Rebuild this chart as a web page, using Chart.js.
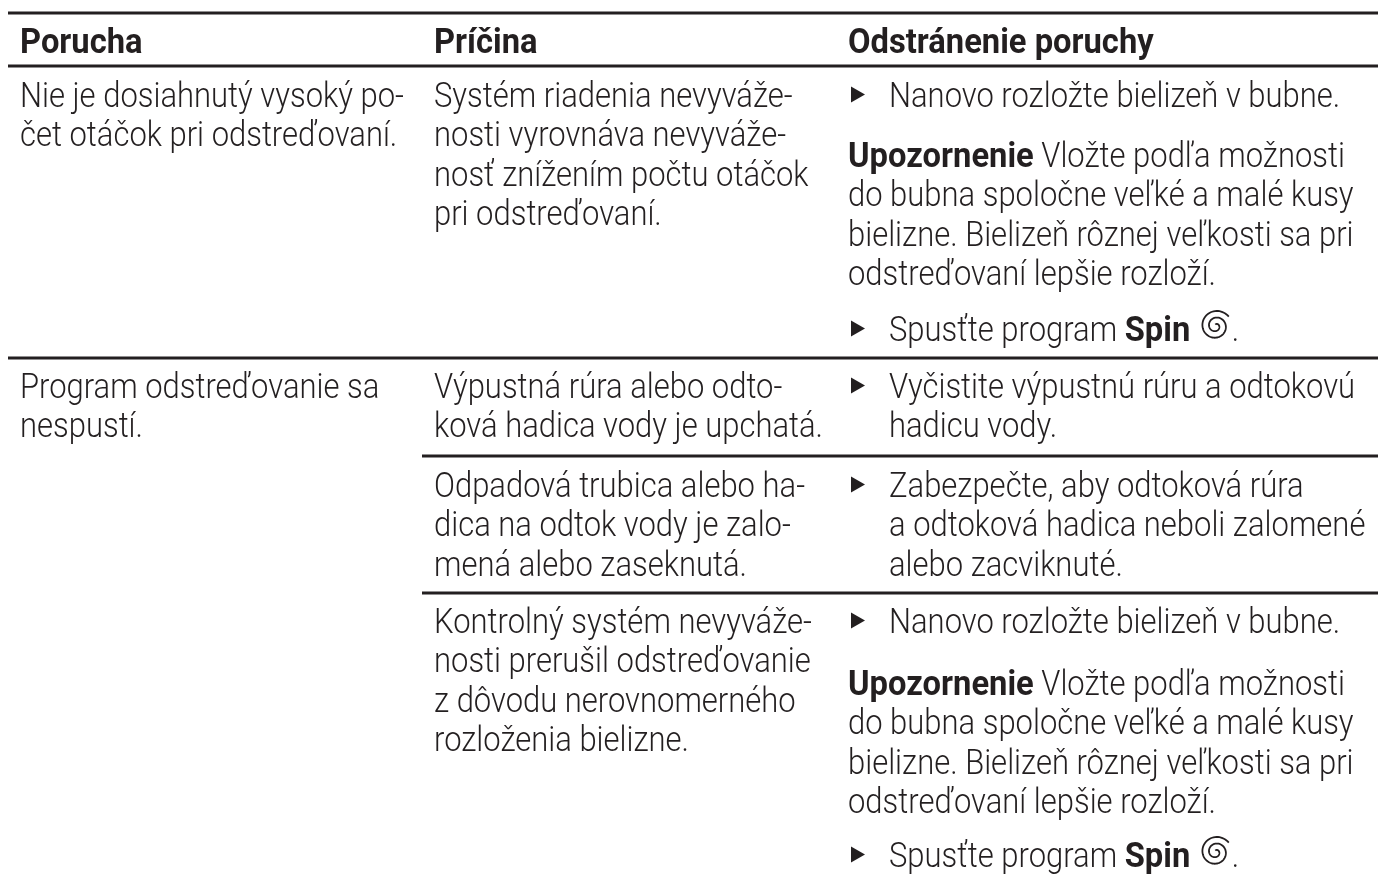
<!DOCTYPE html>
<html>
<head>
<meta charset="utf-8">
<title>Porucha</title>
<script src="https://cdn.jsdelivr.net/npm/chart.js@4/dist/chart.umd.min.js"></script>
<style>
  html, body { margin: 0; padding: 0; background: #fff; }
  #wrap { width: 1378px; height: 879px; }
</style>
</head>
<body>
<div id="wrap"><canvas id="tableChart"></canvas></div>
<script>
// table text, * switches bold on/off, @ is the spin symbol
const headers = ['Porucha', 'Príčina', 'Odstránenie poruchy'];
const fault1 = ['Nie je dosiahnutý vysoký po-', 'čet otáčok pri odstreďovaní.'];
const fault2 = ['Program odstreďovanie sa', 'nespustí.'];
const cause1 = ['Systém riadenia nevyváže-', 'nosti vyrovnáva nevyváže-', 'nosť znížením počtu otáčok', 'pri odstreďovaní.'];
const cause2 = ['Výpustná rúra alebo odto-', 'ková hadica vody je upchatá.'];
const cause3 = ['Odpadová trubica alebo ha-', 'dica na odtok vody je zalo-', 'mená alebo zaseknutá.'];
const cause4 = ['Kontrolný systém nevyváže-', 'nosti prerušil odstreďovanie', 'z dôvodu nerovnomerného', 'rozloženia bielizne.'];
const redistribute = ['Nanovo rozložte bielizeň v bubne.'];
const notice = ['*Upozornenie* Vložte podľa možnosti', 'do bubna spoločne veľké a malé kusy', 'bielizne. Bielizeň rôznej veľkosti sa pri', 'odstreďovaní lepšie rozloží.'];
const spin = ['Spusťte program *Spin* @.'];
const clean = ['Vyčistite výpustnú rúru a odtokovú', 'hadicu vody.'];
const secure = ['Zabezpečte, aby odtoková rúra', 'a odtoková hadica neboli zalomené', 'alebo zacviknuté.'];

// rules of the table as [x from, x to, y]
const ruleFull = [[8, 1378, 13], [8, 1378, 66], [8, 1378, 358]];
const ruleCells = [[422, 1378, 456], [422, 1378, 593]];

const colX = [20, 434, 848];
const textX = 889;
const pitch = 39.3;

const blocks = [
  { lines: fault1, x: colX[0], y: 107 },
  { lines: fault2, x: colX[0], y: 398 },
  { lines: cause1, x: colX[1], y: 107 },
  { lines: cause2, x: colX[1], y: 398 },
  { lines: cause3, x: colX[1], y: 497 },
  { lines: cause4, x: colX[1], y: 633 },
  { lines: redistribute, x: textX, y: 107, bullet: true },
  { lines: notice, x: colX[2], y: 167 },
  { lines: spin, x: textX, y: 341, bullet: true },
  { lines: clean, x: textX, y: 398, bullet: true },
  { lines: secure, x: textX, y: 497, bullet: true },
  { lines: redistribute, x: textX, y: 633, bullet: true },
  { lines: notice, x: colX[2], y: 695 },
  { lines: spin, x: textX, y: 867, bullet: true }
];

const lightFont = '300 35px Roboto';
const boldFont = '700 35px Roboto';
const squeeze = 0.885;
const boldSqueeze = 0.935;
const ink = '#231f20';

function drawSpiral(ctx, cx, cy) {
  const turns = Math.PI * 4.4;
  ctx.save();
  ctx.strokeStyle = ink;
  ctx.lineWidth = 1.8;
  ctx.beginPath();
  for (let a = 0; a <= turns; a += 0.1) {
    const r = 1.5 + a * 1.05;
    const px = cx + Math.cos(a - 0.6 - turns) * r;
    const py = cy + Math.sin(a - 0.6 - turns) * r;
    if (a === 0) ctx.moveTo(px, py); else ctx.lineTo(px, py);
  }
  ctx.stroke();
  ctx.restore();
}

function drawLine(ctx, text, x, y) {
  const parts = text.split('*');
  let cursor = x;
  parts.forEach((part, i) => {
    const bold = i % 2 === 1;
    const sx = bold ? boldSqueeze : squeeze;
    ctx.font = bold ? boldFont : lightFont;
    part.split('@').forEach((bit, j) => {
      if (j > 0) {
        drawSpiral(ctx, cursor + 18, y - 15);
        cursor += 34;
      }
      ctx.save();
      ctx.translate(cursor, y);
      ctx.scale(sx, 1);
      ctx.fillText(bit, 0, 0);
      ctx.restore();
      cursor += ctx.measureText(bit).width * sx;
    });
  });
}

const tableText = {
  id: 'tableText',
  afterDatasetsDraw(chart) {
    const { ctx, scales } = chart;
    const px = v => scales.x.getPixelForValue(v);
    const py = v => scales.y.getPixelForValue(v);
    ctx.save();
    ctx.fillStyle = ink;
    ctx.textBaseline = 'alphabetic';
    ctx.textAlign = 'left';
    headers.forEach((h, i) => drawLine(ctx, '*' + h + '*', px(colX[i]), py(53)));
    blocks.forEach(b => {
      b.lines.forEach((line, i) => drawLine(ctx, line, px(b.x), py(b.y + i * pitch)));
      if (b.bullet) {
        const bx = px(851), by = py(b.y - 12.5);
        ctx.beginPath();
        ctx.moveTo(bx, by - 8);
        ctx.lineTo(bx + 14, by);
        ctx.lineTo(bx, by + 8);
        ctx.closePath();
        ctx.fill();
      }
    });
    ctx.restore();
  }
};

const ruleSets = ruleFull.concat(ruleCells).map(r => ({
  data: [{ x: r[0], y: r[2] }, { x: r[1], y: r[2] }],
  showLine: true,
  borderColor: ink,
  borderWidth: 3,
  pointRadius: 0
}));

new Chart(document.getElementById('tableChart'), {
  type: 'scatter',
  data: { datasets: ruleSets },
  options: {
    responsive: true,
    maintainAspectRatio: false,
    animation: false,
    layout: { padding: 0 },
    plugins: { legend: { display: false }, tooltip: { enabled: false }, title: { display: false } },
    scales: {
      x: { type: 'linear', display: false, min: 0, max: 1378 },
      y: { type: 'linear', display: false, reverse: true, min: 0, max: 879 }
    }
  },
  plugins: [tableText]
});
</script>
</body>
</html>
